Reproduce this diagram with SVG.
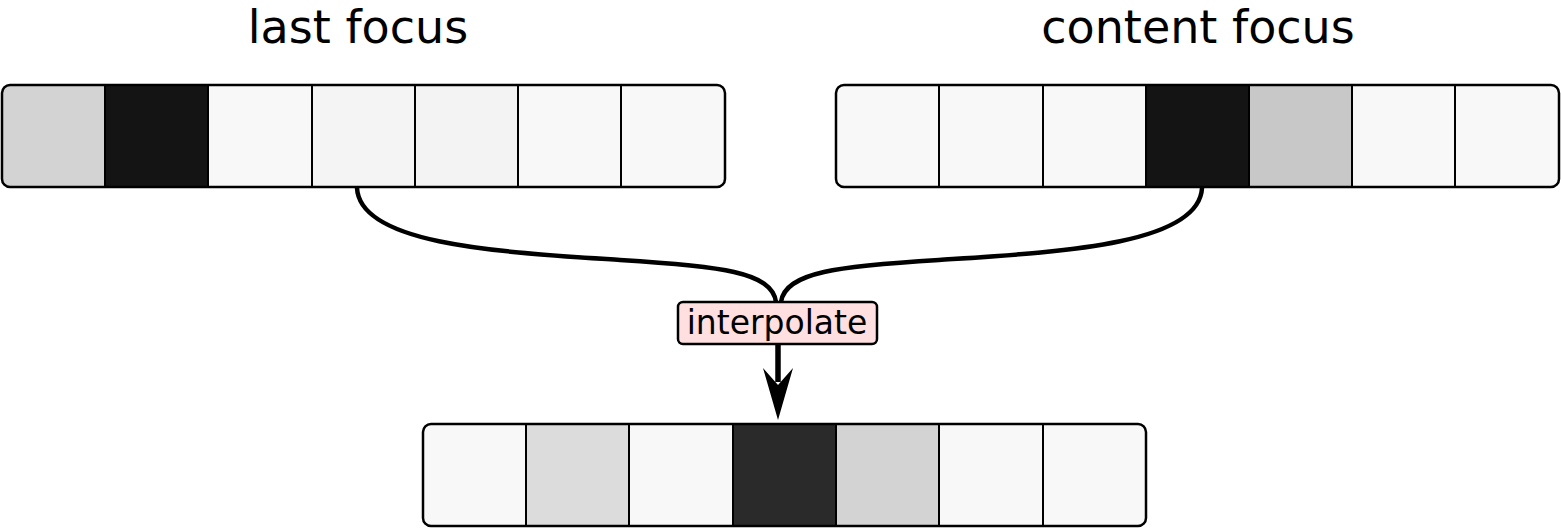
<svg xmlns="http://www.w3.org/2000/svg" width="1561" height="528" viewBox="0 0 1561 528">
<style>
.title{font-family:"DejaVu Sans",sans-serif;font-size:46px;fill:#000;text-anchor:middle}
.lbl{font-family:"DejaVu Sans",sans-serif;font-size:33px;fill:#000;text-anchor:middle}
.frame{fill:none;stroke:#000;stroke-width:2.5}
.div{stroke:#000;stroke-width:2}
.conn{fill:none;stroke:#000;stroke-width:4.5}
</style>
<defs>
<clipPath id="c1"><rect x="2" y="85" width="723" height="102" rx="8"/></clipPath>
<clipPath id="c2"><rect x="836" y="85" width="723" height="102" rx="8"/></clipPath>
<clipPath id="c3"><rect x="423" y="424" width="723" height="102" rx="8"/></clipPath>
</defs>
<text class="title" x="358" y="43">last focus</text>
<text class="title" x="1198" y="43">content focus</text>
<g id="last-focus">
<g clip-path="url(#c1)">
<rect x="2" y="85" width="103" height="102" fill="#d3d3d3"/>
<rect x="105" y="85" width="103" height="102" fill="#141414"/>
<rect x="208" y="85" width="104" height="102" fill="#f8f8f8"/>
<rect x="312" y="85" width="103" height="102" fill="#f4f4f4"/>
<rect x="415" y="85" width="103" height="102" fill="#f3f3f3"/>
<rect x="518" y="85" width="103" height="102" fill="#f8f8f8"/>
<rect x="621" y="85" width="104" height="102" fill="#f8f8f8"/>
</g>
<path class="div" d="M105,85V187M208,85V187M312,85V187M415,85V187M518,85V187M621,85V187"/>
<rect class="frame" x="2" y="85" width="723" height="102" rx="8"/>
</g>
<g id="content-focus">
<g clip-path="url(#c2)">
<rect x="836" y="85" width="103" height="102" fill="#f8f8f8"/>
<rect x="939" y="85" width="104" height="102" fill="#f8f8f8"/>
<rect x="1043" y="85" width="103" height="102" fill="#f8f8f8"/>
<rect x="1146" y="85" width="103" height="102" fill="#141414"/>
<rect x="1249" y="85" width="103" height="102" fill="#c8c8c8"/>
<rect x="1352" y="85" width="103" height="102" fill="#f8f8f8"/>
<rect x="1455" y="85" width="104" height="102" fill="#f8f8f8"/>
</g>
<path class="div" d="M939,85V187M1043,85V187M1146,85V187M1249,85V187M1352,85V187M1455,85V187"/>
<rect class="frame" x="836" y="85" width="723" height="102" rx="8"/>
</g>
<g id="result">
<g clip-path="url(#c3)">
<rect x="423" y="424" width="103" height="102" fill="#f8f8f8"/>
<rect x="526" y="424" width="103" height="102" fill="#dcdcdc"/>
<rect x="629" y="424" width="104" height="102" fill="#f8f8f8"/>
<rect x="733" y="424" width="103" height="102" fill="#2a2a2a"/>
<rect x="836" y="424" width="103" height="102" fill="#d3d3d3"/>
<rect x="939" y="424" width="104" height="102" fill="#f8f8f8"/>
<rect x="1043" y="424" width="103" height="102" fill="#f8f8f8"/>
</g>
<path class="div" d="M526,424V526M629,424V526M733,424V526M836,424V526M939,424V526M1043,424V526"/>
<rect class="frame" x="423" y="424" width="723" height="102" rx="8"/>
</g>
<g id="connectors">
<path class="conn" d="M357,188 C360,245 500,252 620,260 C720,266 772,272 776,302"/>
<path class="conn" d="M1202,188 C1199,245 1059,252 939,260 C839,266 785,272 781,302"/>
<path d="M778,344 V382" fill="none" stroke="#000" stroke-width="5.5"/>
<path d="M778,420 L763,368 L778,385 L793,368 Z" fill="#000"/>
</g>
<g id="interpolate">
<rect x="678" y="302" width="199" height="42" rx="5" fill="#ffdfe0" stroke="#000" stroke-width="2.5"/>
<text class="lbl" x="777" y="334">interpolate</text>
</g>
</svg>
